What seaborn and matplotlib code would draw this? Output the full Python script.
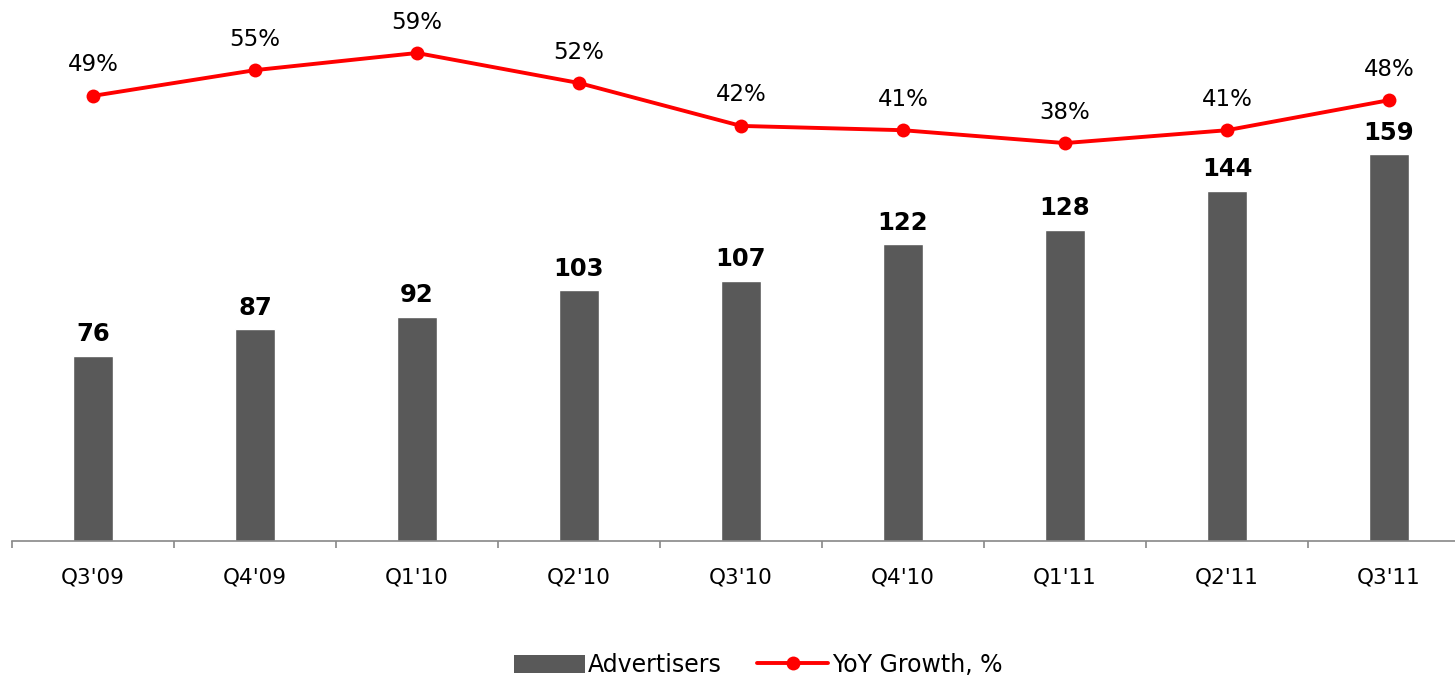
import numpy as np
import pandas as pd
import seaborn as sns
import matplotlib.pyplot as plt
from matplotlib.patches import Patch
from matplotlib.lines import Line2D

quarters = ["Q3'09", "Q4'09", "Q1'10", "Q2'10", "Q3'10", "Q4'10", "Q1'11", "Q2'11", "Q3'11"]
advertisers = [76, 87, 92, 103, 107, 122, 128, 144, 159]
growth = [49, 55, 59, 52, 42, 41, 38, 41, 48]

bar_color = '#595959'
line_color = '#FF0000'

sns.set_style('white')
plt.rcParams['font.family'] = ['DejaVu Sans']

df = pd.DataFrame({'quarter': quarters, 'advertisers': advertisers, 'growth': growth})

fig = plt.figure(figsize=(14.55, 6.82), dpi=100)
# axes spans a bit past the right edge, like the original slide
ax = fig.add_axes([12 / 1455, 141 / 682, 1458 / 1455, 541 / 682])

sns.barplot(data=df, x='quarter', y='advertisers', color=bar_color, width=0.25,
            saturation=1, ax=ax)
ax.set_xlim(-0.5, 8.5)
ax.set_ylim(0, 222.4)

for i, v in enumerate(advertisers):
    ax.annotate(str(v), (i, v), xytext=(0, 7), textcoords='offset points',
                ha='center', va='bottom', fontsize=17.5, fontweight='bold', color='black')

ax2 = ax.twinx()
sns.lineplot(x=np.arange(len(quarters)), y=growth, color=line_color, linewidth=2.8,
             marker='o', markersize=10, markeredgewidth=0, ax=ax2)
ax2.set_ylim(-54.75, 71.35)
for i, v in enumerate(growth):
    ax2.annotate(f'{v}%', (i, v), xytext=(0, 14), textcoords='offset points',
                 ha='center', va='bottom', fontsize=16.5, color='black')

for a in (ax, ax2):
    for s in ['top', 'right', 'left']:
        a.spines[s].set_visible(False)
    a.set_ylabel('')
    a.set_xlabel('')
    a.set_yticks([])
ax2.spines['bottom'].set_visible(False)

ax.spines['bottom'].set_color('#888888')
ax.spines['bottom'].set_linewidth(1.2)
ax.set_xticks(range(len(quarters)))
ax.set_xticklabels(quarters, fontsize=15.5, color='black')
ax.tick_params(axis='x', which='major', length=0, pad=19)
ax.set_xticks(np.arange(-0.5, 9, 1), minor=True)
ax.tick_params(axis='x', which='minor', bottom=True, length=5, width=1.2,
               color='#888888', direction='out')

handles = [Patch(facecolor=bar_color, edgecolor='none'),
           Line2D([0], [0], color=line_color, linewidth=2.8, marker='o', markersize=10,
                  markeredgewidth=0)]
fig.legend(handles, ['Advertisers', 'YoY Growth, %'], loc='center', bbox_to_anchor=(0.521, 17 / 682),
           ncol=2, frameon=False, fontsize=17, handlelength=3.0, handleheight=0.8,
           handletextpad=0.15, columnspacing=1.5, labelcolor='black')

fig.savefig('out.png', dpi=100)
